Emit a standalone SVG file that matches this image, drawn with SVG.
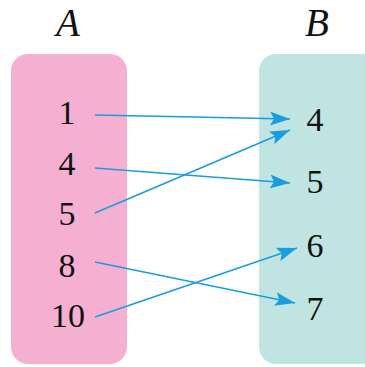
<svg xmlns="http://www.w3.org/2000/svg" width="365" height="367" viewBox="0 0 365 367">
<style>
.lbl{font-family:"Liberation Serif","DejaVu Serif",serif;font-size:34px;fill:#111;text-anchor:middle}
.set{font-family:"Liberation Serif","DejaVu Serif",serif;font-size:39px;font-style:italic;fill:#111;text-anchor:middle}
.edge{stroke:#1a9ce0;stroke-width:1.6;fill:none;marker-end:url(#ah)}
</style>
<defs>
<marker id="ah" markerUnits="userSpaceOnUse" markerWidth="22" markerHeight="14" refX="20" refY="7" orient="auto" viewBox="0 0 22 14">
<path d="M0,0 L20,7 L0,14 L4,7 Z" fill="#1a9ce0"/>
</marker>
</defs>
<g id="setA">
<rect x="11" y="54" width="116" height="310" rx="17" fill="#f5b0d1"/>
<text class="set" x="68" y="36">A</text>
</g>
<g id="setB">
<rect x="259" y="54" width="120" height="310" rx="17" fill="#c0e4e1"/>
<text class="set" x="317" y="36">B</text>
</g>
<g id="a1"><text class="lbl" x="67" y="124">1</text></g>
<g id="a4"><text class="lbl" x="67" y="175">4</text></g>
<g id="a5"><text class="lbl" x="67" y="225">5</text></g>
<g id="a8"><text class="lbl" x="67" y="277">8</text></g>
<g id="a10"><text class="lbl" x="68" y="327">10</text></g>
<g id="b4"><text class="lbl" x="315" y="131">4</text></g>
<g id="b5"><text class="lbl" x="315" y="193">5</text></g>
<g id="b6"><text class="lbl" x="315" y="257">6</text></g>
<g id="b7"><text class="lbl" x="315" y="320">7</text></g>
<g id="connectors">
<line class="edge" x1="95" y1="115" x2="290" y2="119"/>
<line class="edge" x1="95" y1="168" x2="290" y2="183"/>
<line class="edge" x1="95" y1="213" x2="290" y2="130"/>
<line class="edge" x1="95" y1="262" x2="295" y2="303"/>
<line class="edge" x1="95" y1="317" x2="297" y2="248"/>
</g>
</svg>
